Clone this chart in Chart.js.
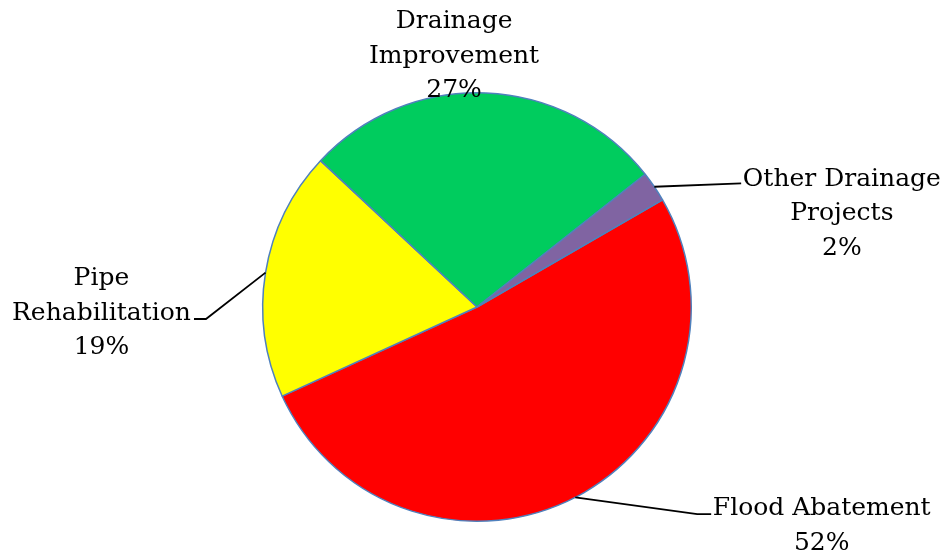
<!DOCTYPE html>
<html>
<head>
<meta charset="utf-8">
<script src="https://cdn.jsdelivr.net/npm/chart.js@4"></script>
<style>
  html, body { margin: 0; padding: 0; background: #ffffff; }
  #wrap { width: 943px; height: 558px; }
</style>
</head>
<body>
<div id="wrap"><canvas id="c" width="943" height="558"></canvas></div>
<script>
// ---- data ----
const categories = ['Flood Abatement', 'Pipe Rehabilitation', 'Drainage Improvement', 'Other Drainage Projects'];
const values = [51.5, 18.8, 27.4, 2.3];
const sliceColors = ['#FF0000', '#FFFF00', '#00CC5E', '#8064A2'];
const labelLines = [['Flood Abatement'], ['Pipe', 'Rehabilitation'], ['Drainage', 'Improvement'], ['Other Drainage', 'Projects']];

// label anchors relative to pie centre, in units of radius (centre x, first baseline y)
const labelAnchor = [[1.609, 0.972], [-1.753, -0.102], [-0.107, -1.302], [1.703, -0.567]];
// leader line: elbow and end, relative to pie centre in radius units (null = no leader)
const leaderPts = [
  [[1.028, 0.967], [1.093, 0.967]],
  [[-1.265, 0.056], [-1.321, 0.056]],
  null,
  [[1.233, -0.577], [1.233, -0.577]]
];

const FONT_SIZE = 25;
const LINE_H = 34.5;
const FONT = FONT_SIZE + 'px "DejaVu Serif"';

const labelPlugin = {
  id: 'outLabels',
  afterDatasetsDraw(chart) {
    const ctx = chart.ctx;
    const meta = chart.getDatasetMeta(0);
    const total = values.reduce((a, b) => a + b, 0);
    ctx.save();
    meta.data.forEach((arc, i) => {
      const p = arc.getProps(['x', 'y', 'startAngle', 'endAngle', 'outerRadius'], true);
      const cx = p.x, cy = p.y, r = p.outerRadius;
      const mid = (p.startAngle + p.endAngle) / 2;
      if (leaderPts[i]) {
        ctx.beginPath();
        ctx.strokeStyle = '#000000';
        ctx.lineWidth = 1.8;
        ctx.moveTo(cx + Math.cos(mid) * r, cy + Math.sin(mid) * r);
        leaderPts[i].forEach(pt => ctx.lineTo(cx + pt[0] * r, cy + pt[1] * r));
        ctx.stroke();
      }
      const pct = Math.round(values[i] * 100 / total) + '%';
      const lines = labelLines[i].concat([pct]);
      const ax = cx + labelAnchor[i][0] * r;
      const ay = cy + labelAnchor[i][1] * r;
      ctx.fillStyle = '#000000';
      ctx.font = FONT;
      ctx.textAlign = 'center';
      ctx.textBaseline = 'alphabetic';
      lines.forEach((t, k) => ctx.fillText(t, ax, ay + k * LINE_H));
    });
    ctx.restore();
  }
};

new Chart(document.getElementById('c'), {
  type: 'pie',
  data: {
    labels: categories,
    datasets: [{
      data: values,
      backgroundColor: sliceColors,
      borderColor: '#4F81BD',
      borderWidth: 1.5
    }]
  },
  options: {
    responsive: false,
    animation: false,
    rotation: 60.0,
    layout: { padding: { left: 262, right: 251, top: 92, bottom: 36 } },
    plugins: {
      legend: { display: false },
      tooltip: { enabled: false }
    }
  },
  plugins: [labelPlugin]
});
</script>
</body>
</html>
